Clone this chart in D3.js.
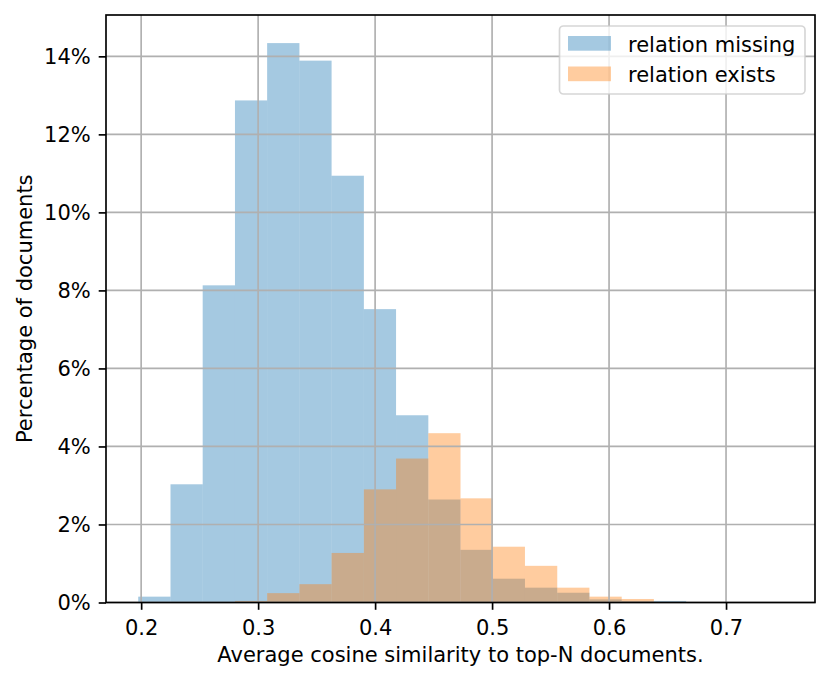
<head>
    <meta charset="utf-8">
    <style> body { margin: 0; background: #ffffff; } text { font-family: "DejaVu Sans", sans-serif; } </style>
    <script src="https://cdn.jsdelivr.net/npm/d3@7"></script>
</head>
<body>
    <div id="chart"></div>
    <script>

        // bin edges (20 shared bins)
        var binEdges = [0.1975, 0.2251, 0.2526, 0.2802, 0.3077, 0.3353, 0.3628, 0.3904, 0.4179, 0.4455,
                        0.4730, 0.5006, 0.5281, 0.5557, 0.5832, 0.6108, 0.6383, 0.6659, 0.6934, 0.7210, 0.7485];

        // percentage of documents per bin
        var relationMissing = [0.15, 3.03, 8.13, 12.87, 14.34, 13.89, 10.94, 7.52, 4.80, 2.64,
                               1.35, 0.61, 0.38, 0.25, 0.08, 0.04, 0.04, 0, 0.01, 0.01];
        var relationExists  = [0, 0, 0, 0.04, 0.24, 0.47, 1.27, 2.90, 3.69, 4.34,
                               2.67, 1.43, 0.94, 0.38, 0.15, 0.09, 0, 0, 0.01, 0.01];

        var seriesNames = ["relation missing", "relation exists"];
        var xTicks = [0.2, 0.3, 0.4, 0.5, 0.6, 0.7];
        var yTicks = [0, 2, 4, 6, 8, 10, 12, 14];

        var W = 831,
            H = 682;

        var margin = {left: 106, right: 16, top: 15, bottom: 79.5};
        var fs = "21px";

        var svg = d3.select("#chart").append("svg")
            .attr("width", W)
            .attr("height", H);

        var x = d3.scaleLinear()
            .domain([0.16995, 0.77605])
            .range([margin.left, W - margin.right]);

        var y = d3.scaleLinear()
            .domain([0, 15.06])
            .range([H - margin.bottom, margin.top]);

        var colors = ["#1f77b4", "#ff7f0e"];

        function addBars(values, col) {
            svg.append("g")
                .selectAll("rect")
                .data(values)
                .enter()
                .append("rect")
                .attr("x", (d, i) => x(binEdges[i]))
                .attr("width", (d, i) => x(binEdges[i + 1]) - x(binEdges[i]))
                .attr("y", d => y(d))
                .attr("height", d => y(0) - y(d))
                .attr("fill", col)
                .attr("fill-opacity", 0.4);
        };

        addBars(relationMissing, colors[0]);
        addBars(relationExists, colors[1]);

        // grid sits above the bars, like matplotlib's default
        var grid = svg.append("g")
            .attr("stroke", "#b0b0b0")
            .attr("stroke-width", 1.67);

        grid.selectAll(".gx")
            .data(xTicks)
            .enter()
            .append("line")
            .attr("x1", d => x(d)).attr("x2", d => x(d))
            .attr("y1", margin.top).attr("y2", H - margin.bottom);

        grid.selectAll(".gy")
            .data(yTicks)
            .enter()
            .append("line")
            .attr("x1", margin.left).attr("x2", W - margin.right)
            .attr("y1", d => y(d)).attr("y2", d => y(d));

        var xx = svg.append("g")
            .attr("class", "ax")
            .attr("transform", "translate(0," + (H - margin.bottom) + ")")
            .call(d3.axisBottom(x).tickValues(xTicks).tickSize(7.3).tickPadding(10).tickFormat(d3.format(".1f")));

        var yx = svg.append("g")
            .attr("class", "ax")
            .attr("transform", "translate(" + margin.left + ",0)")
            .call(d3.axisLeft(y).tickValues(yTicks).tickSize(7.3).tickPadding(8).tickFormat(d => d + "%"));

        svg.selectAll(".ax").selectAll("path").remove();
        svg.selectAll(".ax").selectAll("line").attr("stroke", "#000000").attr("stroke-width", 1.67);
        svg.selectAll(".ax").selectAll("text")
            .attr("fill", "#000000")
            .style("font-size", fs);
        svg.selectAll(".ax").attr("font-family", null).attr("font-size", null);

        // frame
        svg.append("rect")
            .attr("x", margin.left)
            .attr("y", margin.top)
            .attr("width", W - margin.left - margin.right)
            .attr("height", H - margin.top - margin.bottom)
            .attr("fill", "none")
            .attr("stroke", "#000000")
            .attr("stroke-width", 1.67);

        svg.append("text")
            .attr("x", (margin.left + W - margin.right) / 2)
            .attr("y", 661.5)
            .attr("text-anchor", "middle")
            .style("font-size", fs)
            .text("Average cosine similarity to top-N documents.");

        svg.append("text")
            .attr("transform", "translate(32," + (margin.top + (H - margin.bottom - margin.top) / 2) + ") rotate(-90)")
            .attr("text-anchor", "middle")
            .style("font-size", fs)
            .text("Percentage of documents");

        // legend
        var legend = svg.append("g");

        legend.append("rect")
            .attr("x", 559.5)
            .attr("y", 26)
            .attr("width", 245.5)
            .attr("height", 68)
            .attr("rx", 4)
            .attr("fill", "#ffffff")
            .attr("fill-opacity", 0.8)
            .attr("stroke", "#cccccc")
            .attr("stroke-opacity", 0.8)
            .attr("stroke-width", 1.67);

        seriesNames.forEach(function(name, i) {
            legend.append("rect")
                .attr("x", 568)
                .attr("y", 36 + i * 30.5)
                .attr("width", 43)
                .attr("height", 14.7)
                .attr("fill", colors[i])
                .attr("fill-opacity", 0.4);

            legend.append("text")
                .attr("x", 628)
                .attr("y", 51.5 + i * 30)
                .style("font-size", fs)
                .text(name);
        });

    </script>
</body>
